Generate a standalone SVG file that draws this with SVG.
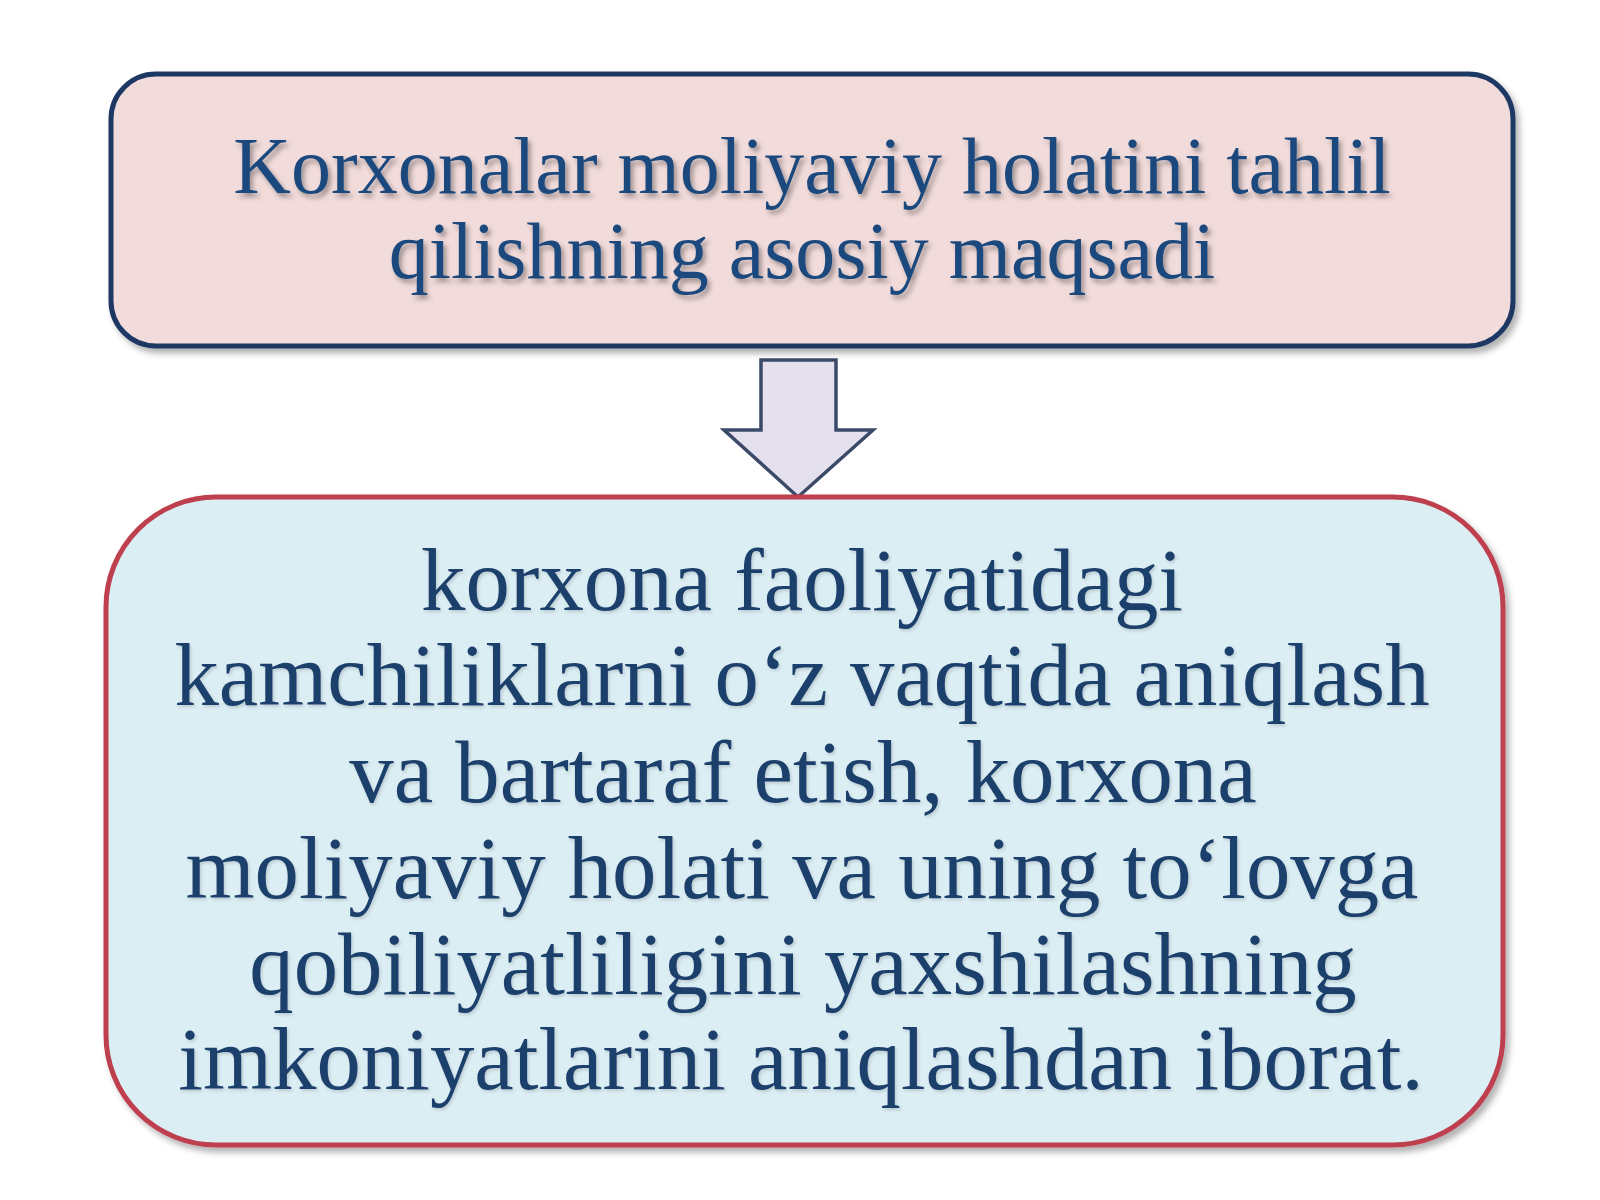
<svg xmlns="http://www.w3.org/2000/svg" width="1600" height="1200" viewBox="0 0 1600 1200">
  <defs>
    <filter id="boxShadow" x="-5%" y="-5%" width="110%" height="115%">
      <feDropShadow dx="4" dy="5" stdDeviation="3" flood-color="#000" flood-opacity="0.3"/>
    </filter>
    <filter id="textShadow" x="-5%" y="-20%" width="110%" height="140%">
      <feDropShadow dx="3" dy="4" stdDeviation="2.5" flood-color="#000" flood-opacity="0.35"/>
    </filter>
    <filter id="textShadowSoft" x="-5%" y="-20%" width="110%" height="140%">
      <feDropShadow dx="1.5" dy="2" stdDeviation="1.5" flood-color="#000" flood-opacity="0.15"/>
    </filter>
  </defs>
  <style>
    .title { font-family: "Liberation Serif", "Times New Roman", serif; font-size: 80px; fill: #1f497d; text-anchor: middle; }
    .body { font-family: "Liberation Serif", "Times New Roman", serif; font-size: 88.8px; fill: #1f3f6c; text-anchor: middle; }
  </style>
  <rect width="1600" height="1200" fill="#ffffff"/>

  <g id="node-goal">
    <rect x="111" y="74" width="1402" height="272" rx="45" ry="45" fill="#f2dcdb" stroke="#1f3864" stroke-width="5" filter="url(#boxShadow)"/>
    <g filter="url(#textShadow)">
      <text class="title" x="812" y="193">Korxonalar moliyaviy holatini tahlil</text>
      <text class="title" x="802" y="278">qilishning asosiy maqsadi</text>
    </g>
  </g>

  <g id="connectors">
    <path d="M761,360 L836,360 L836,430 L873,430 L798,497 L724,430 L761,430 Z" fill="#e4e0ee" stroke="#3a4a68" stroke-width="3.5" stroke-linejoin="miter"/>
  </g>

  <g id="node-answer">
    <rect x="106" y="497" width="1397" height="648" rx="110" ry="110" fill="#dbeef4" stroke="#be3f4f" stroke-width="5" filter="url(#boxShadow)"/>
    <g filter="url(#textShadowSoft)">
      <text class="body" x="802" y="610">korxona faoliyatidagi</text>
      <text class="body" x="802" y="705">kamchiliklarni o‘z vaqtida aniqlash</text>
      <text class="body" x="803" y="802">va bartaraf etish, korxona</text>
      <text class="body" x="802" y="898">moliyaviy holati va uning to‘lovga</text>
      <text class="body" x="803" y="994">qobiliyatliligini yaxshilashning</text>
      <text class="body" x="801" y="1089">imkoniyatlarini aniqlashdan iborat.</text>
    </g>
  </g>
</svg>
